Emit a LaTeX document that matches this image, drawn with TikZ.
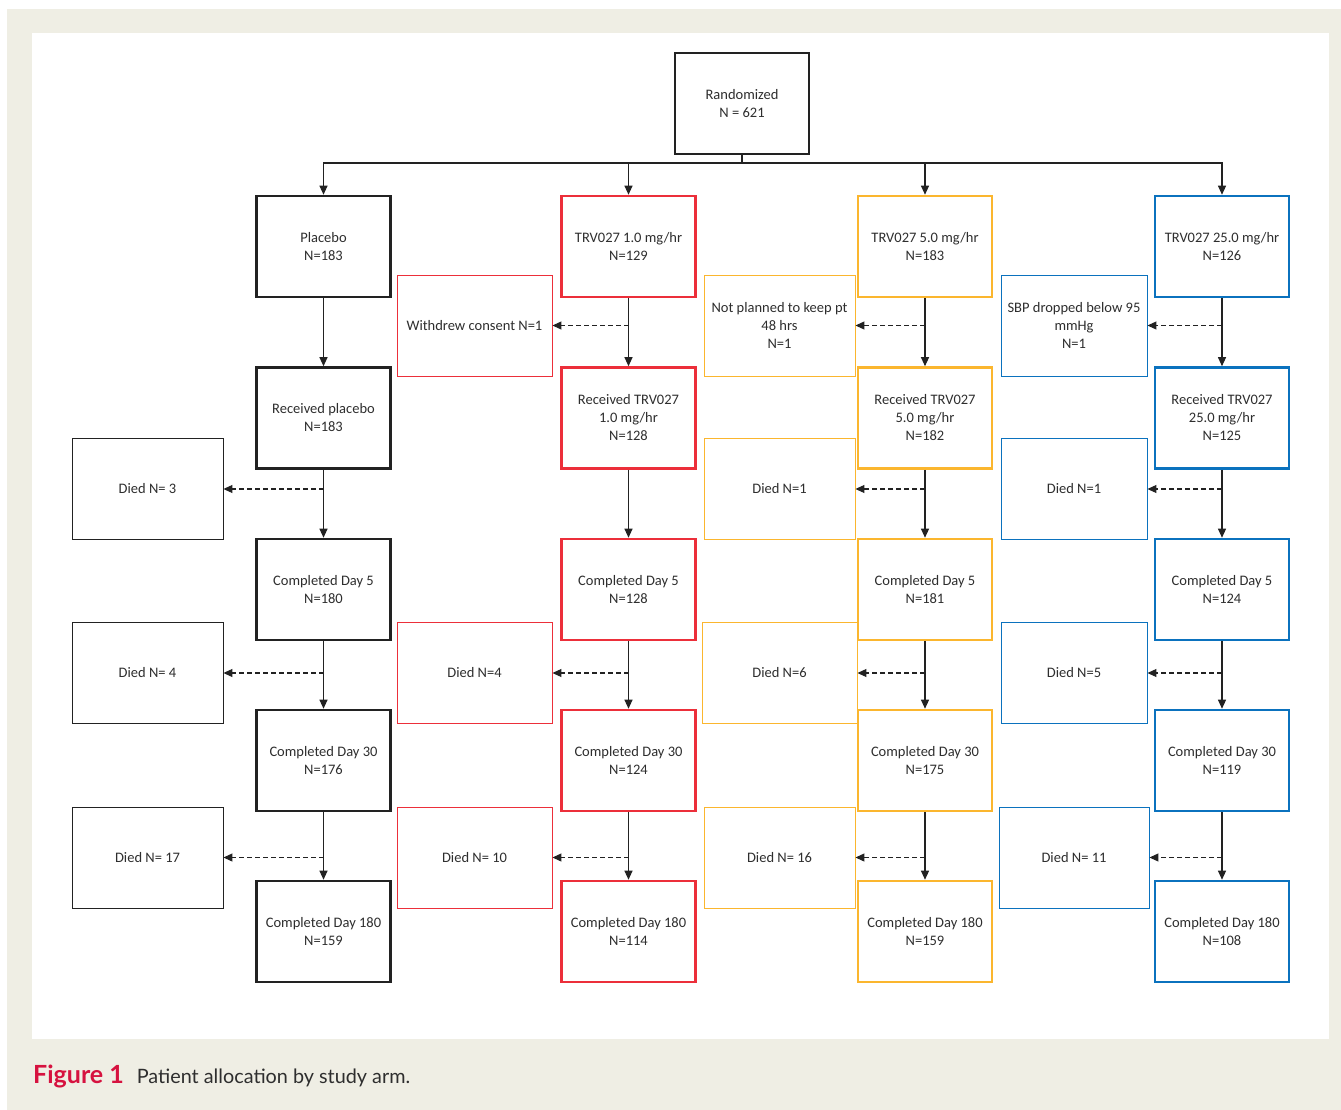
\documentclass[tikz,border=0pt]{standalone}
\usepackage{fontspec}
\setmainfont{Carlito}
\newfontfamily\capfont{Lato}
\usetikzlibrary{arrows.meta,positioning}
\definecolor{frame}{HTML}{EFEEE4}
\definecolor{txt}{HTML}{2E2E2E}
\definecolor{cblack}{HTML}{222222}
\definecolor{cred}{HTML}{EC2F3A}
\definecolor{cyel}{HTML}{FBB62E}
\definecolor{cblue}{HTML}{0B72BE}
\definecolor{capred}{HTML}{D6123F}
\tikzset{
  box/.style={draw, rectangle, align=center, text=txt, inner sep=2pt,
    font=\fontsize{14.5}{18}\selectfont},
  mainbox/.style={box, line width=2.6pt, minimum width=134pt, minimum height=101pt},
  sidebox/.style={box, line width=0.9pt, minimum height=101pt},
  conn/.style={draw=cblack, line width=1.1pt},
  arr/.style={conn, -{Triangle[length=9pt,width=8pt]}},
  darr/.style={conn, dash pattern=on 5pt off 3pt, -{Triangle[length=9pt,width=8pt]}},
}
\begin{document}
\begin{tikzpicture}[x=1pt,y=-1pt]
\useasboundingbox (0,0) rectangle (1341,1110);
\fill[frame] (7,9) rectangle (1341,1110);
\fill[white] (32,33) rectangle (1329,1039);

% top
\node[mainbox, draw=cblack] (rand) at (742,103.5) {Randomized\\N = 621};
\coordinate (hub) at (742,163);

% columns
\node[mainbox, draw=cblack] (p1) at (323.5,246.5) {Placebo\\N=183};
\node[mainbox, draw=cblack] (p2) at (323.5,418) {Received placebo\\N=183};
\node[mainbox, draw=cblack] (p3) at (323.5,589.5) {Completed Day 5\\N=180};
\node[mainbox, draw=cblack] (p4) at (323.5,760.5) {Completed Day 30\\N=176};
\node[mainbox, draw=cblack] (p5) at (323.5,931.5) {Completed Day 180\\N=159};

\node[mainbox, draw=cred] (r1) at (628.5,246.5) {TRV027 1.0 mg/hr\\N=129};
\node[mainbox, draw=cred] (r2) at (628.5,418) {Received TRV027\\1.0 mg/hr\\N=128};
\node[mainbox, draw=cred] (r3) at (628.5,589.5) {Completed Day 5\\N=128};
\node[mainbox, draw=cred] (r4) at (628.5,760.5) {Completed Day 30\\N=124};
\node[mainbox, draw=cred] (r5) at (628.5,931.5) {Completed Day 180\\N=114};

\node[mainbox, draw=cyel] (y1) at (925,246.5) {TRV027 5.0 mg/hr\\N=183};
\node[mainbox, draw=cyel] (y2) at (925,418) {Received TRV027\\5.0 mg/hr\\N=182};
\node[mainbox, draw=cyel] (y3) at (925,589.5) {Completed Day 5\\N=181};
\node[mainbox, draw=cyel] (y4) at (925,760.5) {Completed Day 30\\N=175};
\node[mainbox, draw=cyel] (y5) at (925,931.5) {Completed Day 180\\N=159};

\node[mainbox, draw=cblue] (b1) at (1222,246.5) {TRV027 25.0 mg/hr\\N=126};
\node[mainbox, draw=cblue] (b2) at (1222,418) {Received TRV027\\25.0 mg/hr\\N=125};
\node[mainbox, draw=cblue] (b3) at (1222,589.5) {Completed Day 5\\N=124};
\node[mainbox, draw=cblue] (b4) at (1222,760.5) {Completed Day 30\\N=119};
\node[mainbox, draw=cblue] (b5) at (1222,931.5) {Completed Day 180\\N=108};

% side boxes
\node[sidebox, draw=cred, minimum width=155pt] (wd) at (474.5,325.5) {Withdrew consent N=1};
\node[sidebox, draw=cyel, minimum width=151pt] (np) at (779.5,325.5) {Not planned to keep pt\\48 hrs\\N=1};
\node[sidebox, draw=cblue, minimum width=146pt] (sbp) at (1074,325.5) {SBP dropped below 95\\mmHg\\N=1};

\node[sidebox, draw=cblack, minimum width=151pt] (d3) at (147.5,489) {Died N= 3};
\node[sidebox, draw=cyel, minimum width=151pt] (dy1) at (779.5,489) {Died N=1};
\node[sidebox, draw=cblue, minimum width=146pt] (db1) at (1074,489) {Died N=1};

\node[sidebox, draw=cblack, minimum width=151pt] (d4) at (147.5,673) {Died N= 4};
\node[sidebox, draw=cred, minimum width=155pt] (dr4) at (474.5,673) {Died N=4};
\node[sidebox, draw=cyel, minimum width=155pt] (dy6) at (779.5,673) {Died N=6};
\node[sidebox, draw=cblue, minimum width=146pt] (db5) at (1074,673) {Died N=5};

\node[sidebox, draw=cblack, minimum width=151pt] (d17) at (147.5,857.5) {Died N= 17};
\node[sidebox, draw=cred, minimum width=155pt] (dr10) at (474.5,857.5) {Died N= 10};
\node[sidebox, draw=cyel, minimum width=151pt] (dy16) at (779.5,857.5) {Died N= 16};
\node[sidebox, draw=cblue, minimum width=150pt] (db11) at (1074,857.5) {Died N= 11};

% top connectors
\draw[conn] (rand.south) -- (hub);
\draw[arr] (hub) -| (p1.north);
\draw[arr] (hub) -| (r1.north);
\draw[arr] (hub) -| (y1.north);
\draw[arr] (hub) -| (b1.north);

% vertical connectors
\foreach \c in {p,r,y,b}{
  \draw[arr] (\c1.south) -- (\c2.north);
  \draw[arr] (\c2.south) -- (\c3.north);
  \draw[arr] (\c3.south) -- (\c4.north);
  \draw[arr] (\c4.south) -- (\c5.north);
}

% dashed side connectors
\draw[darr] (r1.south |- wd.east) -- (wd.east);
\draw[darr] (y1.south |- np.east) -- (np.east);
\draw[darr] (b1.south |- sbp.east) -- (sbp.east);
\draw[darr] (p2.south |- d3.east) -- (d3.east);
\draw[darr] (y2.south |- dy1.east) -- (dy1.east);
\draw[darr] (b2.south |- db1.east) -- (db1.east);
\draw[darr] (p3.south |- d4.east) -- (d4.east);
\draw[darr] (r3.south |- dr4.east) -- (dr4.east);
\draw[darr] (y3.south |- dy6.east) -- (dy6.east);
\draw[darr] (b3.south |- db5.east) -- (db5.east);
\draw[darr] (p4.south |- d17.east) -- (d17.east);
\draw[darr] (r4.south |- dr10.east) -- (dr10.east);
\draw[darr] (y4.south |- dy16.east) -- (dy16.east);
\draw[darr] (b4.south |- db11.east) -- (db11.east);

% caption
\node[anchor=base west, inner sep=0pt, font=\capfont\fontsize{25}{28}\selectfont] (cap) at (33,1083)
  {\textcolor{capred}{\bfseries Figure 1}\hspace{13pt}\textcolor{txt}{\fontsize{19.8}{26}\selectfont Patient allocation by study arm.}};
\end{tikzpicture}
\end{document}
